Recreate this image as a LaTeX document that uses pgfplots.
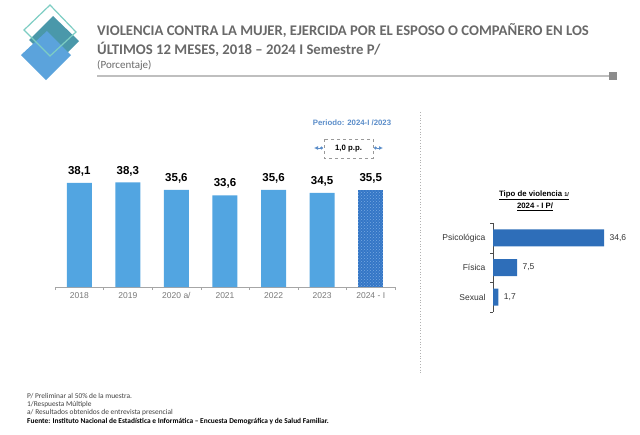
\documentclass[border=0pt]{standalone}
\usepackage{pgfplots}
\pgfplotsset{compat=1.18}
\usepackage{fontspec}
\setmainfont{Liberation Sans}
\newfontfamily\titlefont[Ligatures=TeX]{Carlito}
\usetikzlibrary{patterns,arrows.meta}
\definecolor{barblue}{RGB}{82,165,225}
\definecolor{darkbar}{RGB}{52,118,198}
\definecolor{dotblue}{RGB}{120,170,225}
\definecolor{rightbar}{RGB}{46,110,185}
\definecolor{titlegray}{RGB}{105,105,105}
\definecolor{periodblue}{RGB}{91,141,201}
\definecolor{tealdark}{RGB}{74,152,170}
\definecolor{logoblue}{RGB}{91,163,220}
\definecolor{tealline}{RGB}{125,205,195}
\definecolor{ticklab}{RGB}{120,120,120}
\begin{document}
\begin{tikzpicture}
\path[use as bounding box] (0,0) rectangle (640pt,-434pt);
% logo
\fill[tealdark] (53pt,-16pt) -- (79pt,-41pt) -- (55pt,-65pt) -- (29pt,-40pt) -- cycle;
\fill[logoblue] (47pt,-31pt) -- (71pt,-55pt) -- (46pt,-80pt) -- (21pt,-55pt) -- cycle;
\draw[tealline, line width=1.2pt] (50pt,-5pt) -- (76pt,-32pt) -- (50pt,-56pt) -- (24pt,-30pt) -- cycle;
% title
\node[anchor=west, inner sep=0, text=titlegray, font=\titlefont\bfseries\fontsize{14.7}{16}\selectfont] at (97pt,-31pt) {VIOLENCIA CONTRA LA MUJER, EJERCIDA POR EL ESPOSO O COMPAÑERO EN LOS};
\node[anchor=west, inner sep=0, text=titlegray, font=\titlefont\bfseries\fontsize{14.7}{16}\selectfont] at (97pt,-49pt) {ÚLTIMOS 12 MESES, 2018 – 2024 I Semestre P/};
\node[anchor=west, inner sep=0, text=titlegray, font=\titlefont\fontsize{11}{12}\selectfont] at (97pt,-65pt) {(Porcentaje)};
\draw[black!25, line width=1.2pt] (97pt,-76pt) -- (609pt,-76pt);
\fill[black!45] (609pt,-72pt) rectangle (617pt,-80pt);
% main bar chart
\begin{axis}[at={(55pt,-287pt)}, anchor=south west, scale only axis,
  width=340pt, height=109.2pt, xmin=-0.5, xmax=6.5, ymin=0, ymax=40,
  axis y line=none, axis x line*=bottom,
  axis line style={black!35},
  xtick={0,...,6}, xticklabels={2018,2019,2020 a/,2021,2022,2023,2024 - I},
  major tick length=0pt,
  minor xtick={-0.5,0.5,...,6.5}, minor tick length=3pt, tick align=outside,
  minor tick style={black!35},
  xticklabel style={font=\fontsize{8.5}{10}\selectfont, text=ticklab, yshift=-2pt},
  /pgf/number format/assume math mode=true,
  /pgf/number format/.cd, use comma, fixed, fixed zerofill, precision=1, /pgfplots/.cd,
  ybar, bar width=25pt,
  nodes near coords,
  nodes near coords style={font=\bfseries\fontsize{11.5}{13}\selectfont, text=black, anchor=south, yshift=3pt},
  clip=false]
\addplot[fill=barblue, draw=none, bar shift=0pt] coordinates {(0,38.1) (1,38.3) (2,35.6) (3,33.6) (4,35.6) (5,34.5)};
\addplot[fill=darkbar, draw=none, bar shift=0pt, postaction={pattern=crosshatch dots, pattern color=dotblue}] coordinates {(6,35.5)};
\end{axis}
% period annotation
\node[text=periodblue, font=\bfseries\fontsize{7.8}{9}\selectfont, inner sep=0] at (352pt,-123pt) {Periodo: 2024-I /2023};
\draw[black!40, dashed, line width=0.5pt] (324pt,-139pt) rectangle (373pt,-158pt);
\node[font=\bfseries\fontsize{7.8}{9}\selectfont, inner sep=0] at (348.5pt,-148.5pt) {1,0 p.p.};
\draw[periodblue, line width=1pt, {Circle[length=3pt]}-{Latex[length=4pt,width=4pt]}] (323pt,-148pt) -- (314pt,-148pt);
\draw[periodblue, line width=1pt, {Circle[length=3pt]}-{Latex[length=4pt,width=4pt]}] (374pt,-148pt) -- (383pt,-148pt);
% separator
\draw[black!30, dotted, line width=0.8pt] (420pt,-112pt) -- (420pt,-375pt);
% right title
\node[font=\bfseries\fontsize{7.8}{9}\selectfont, inner sep=0] at (534pt,-195pt) {\underline{Tipo de violencia {\fontsize{5.5}{6}\selectfont 1/}}};
\node[font=\bfseries\fontsize{7.8}{9}\selectfont, inner sep=0] at (535pt,-207pt) {\underline{2024 - I P/}};
% right bar chart
\begin{axis}[at={(493pt,-312pt)}, anchor=south west, scale only axis,
  width=128.4pt, height=89pt, xmin=0, xmax=40, ymin=-0.5, ymax=2.5, y dir=reverse,
  axis x line=none, axis y line*=left,
  axis line style={black!70},
  ytick={0,1,2}, yticklabels={Psicológica,Física,Sexual},
  major tick length=0pt,
  minor ytick={-0.5,0.5,1.5,2.5}, minor tick length=3pt, tick align=outside,
  minor tick style={black!70},
  yticklabel style={font=\fontsize{8.5}{10}\selectfont, text=black!80, xshift=-4pt},
  /pgf/number format/assume math mode=true,
  /pgf/number format/.cd, use comma, fixed, fixed zerofill, precision=1, /pgfplots/.cd,
  xbar, bar width=17pt,
  nodes near coords,
  nodes near coords style={font=\fontsize{8.5}{10}\selectfont, text=black!80, anchor=west, xshift=2pt},
  clip=false]
\addplot[fill=rightbar, draw=none, bar shift=0pt] coordinates {(34.6,0) (7.5,1) (1.7,2)};
\end{axis}
% footnotes
\begin{scope}[every node/.style={anchor=west, inner sep=0, font=\titlefont\fontsize{7.4}{8}\selectfont, text=black!75}]
\node at (27pt,-396pt) {P/ Preliminar al 50\% de la muestra.};
\node at (27pt,-404.5pt) {1/Respuesta Múltiple};
\node at (27pt,-413pt) {a/ Resultados obtenidos de entrevista presencial};
\node[font=\titlefont\bfseries\fontsize{7.4}{8}\selectfont, text=black] at (27pt,-421.5pt) {Fuente: Instituto Nacional de Estadística e Informática – Encuesta Demográfica y de Salud Familiar.};
\end{scope}
\end{tikzpicture}
\end{document}
